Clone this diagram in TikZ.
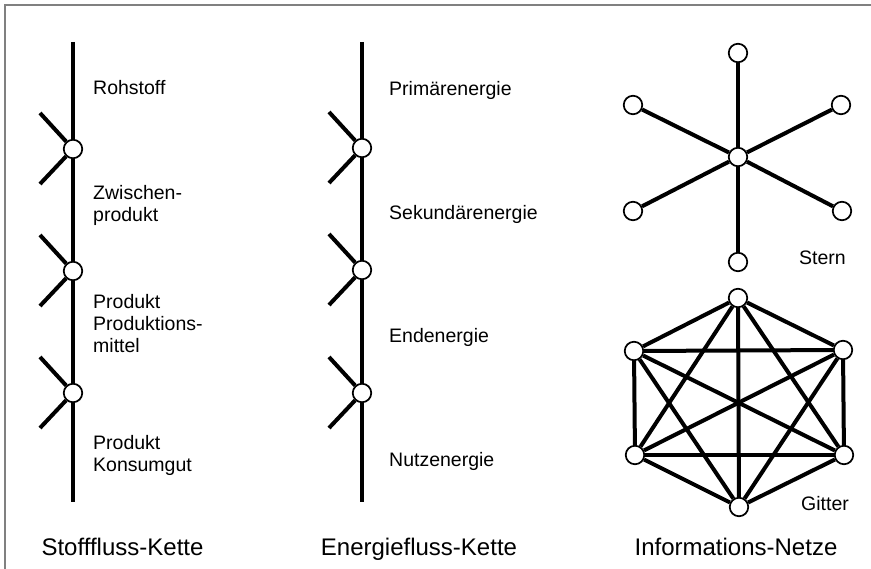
\documentclass[tikz,border=0pt]{standalone}
\usepackage{fontspec}
\setmainfont{Liberation Sans}
\begin{document}
\begin{tikzpicture}[x=1pt,y=-1pt,
  knot/.style={circle,draw,fill=white,line width=1.7pt,minimum size=18.5pt,inner sep=0pt},
  chainline/.style={line width=4pt},
  branch/.style={line width=4pt},
  netline/.style={line width=4pt},
  lbl/.style={anchor=base west,inner sep=0pt,font=\fontsize{19.5}{22}\selectfont},
  ttl/.style={anchor=base,inner sep=0pt,font=\fontsize{24}{28}\selectfont},
  framestyle/.style={draw=black!50,line width=1.6pt}]
\useasboundingbox (0,0) rectangle (871,569);
\fill[white] (0,0) rectangle (871,569);
% frame (top and left edge)
\coordinate (fr1) at (5,569);
\coordinate (fr2) at (5,5);
\coordinate (fr3) at (871,5);
\draw[framestyle] (fr1) -- (fr2) -- (fr3);

% ---------- Stofffluss-Kette ----------
\coordinate (sTop) at (73,42);
\coordinate (sBot) at (73,502);
\draw[chainline] (sTop) -- (sBot);
\foreach \i/\y in {1/149,2/271,3/393}{
  \node[knot] (s\i) at (73,\y) {};
  \coordinate (su\i) at (40,\y-36);
  \coordinate (sl\i) at (40,\y+35);
  \draw[branch] (su\i) -- (s\i);
  \draw[branch] (sl\i) -- (s\i);
}
\node[lbl] (sa) at (93,95) {Rohstoff};
\node[lbl] (sb1) at (93,199.5) {Zwischen-};
\node[lbl] (sb2) at (93,221.5) {produkt};
\node[lbl] (sc1) at (93,308.5) {Produkt};
\node[lbl] (sc2) at (93,330.5) {Produktions-};
\node[lbl] (sc3) at (93,352.5) {mittel};
\node[lbl] (sd1) at (93,449.5) {Produkt};
\node[lbl] (sd2) at (93,471.5) {Konsumgut};
\node[ttl] (st) at (122.5,555.5) {Stofffluss-Kette};

% ---------- Energiefluss-Kette ----------
\coordinate (eTop) at (362,42);
\coordinate (eBot) at (362,502);
\draw[chainline] (eTop) -- (eBot);
\foreach \i/\y in {1/148,2/270,3/393}{
  \node[knot] (e\i) at (362,\y) {};
  \coordinate (eu\i) at (329,\y-36);
  \coordinate (el\i) at (329,\y+35);
  \draw[branch] (eu\i) -- (e\i);
  \draw[branch] (el\i) -- (e\i);
}
\node[lbl] (ea) at (389,95.5) {Primärenergie};
\node[lbl] (eb) at (389,219.5) {Sekundärenergie};
\node[lbl] (ec) at (389,342.5) {Endenergie};
\node[lbl] (ed) at (389,466.5) {Nutzenergie};
\node[ttl] (et) at (419,555.5) {Energiefluss-Kette};

% ---------- Stern ----------
\node[knot] (k0) at (738,157) {};
\node[knot] (k1) at (738,53) {};
\node[knot] (k2) at (841,105) {};
\node[knot] (k3) at (842,211) {};
\node[knot] (k4) at (738,262) {};
\node[knot] (k5) at (633,211) {};
\node[knot] (k6) at (633,105) {};
\foreach \i in {1,...,6}{
  \draw[netline] (k0) -- (k\i);
}
\node[lbl] (sternlbl) at (799,264.5) {Stern};

% ---------- Gitter ----------
\node[knot] (g1) at (738,298) {};
\node[knot] (g2) at (843,350) {};
\node[knot] (g3) at (844,455) {};
\node[knot] (g4) at (739,507) {};
\node[knot] (g5) at (635,455) {};
\node[knot] (g6) at (634,351) {};
\foreach \a/\b in {1/2,1/3,1/4,1/5,1/6,2/3,2/4,2/5,2/6,3/4,3/5,3/6,4/5,4/6,5/6}{
  \draw[netline] (g\a) -- (g\b);
}
\node[lbl] (gitterlbl) at (801,510.5) {Gitter};
\node[ttl] (it) at (736,555.5) {Informations-Netze};
\end{tikzpicture}
\end{document}
